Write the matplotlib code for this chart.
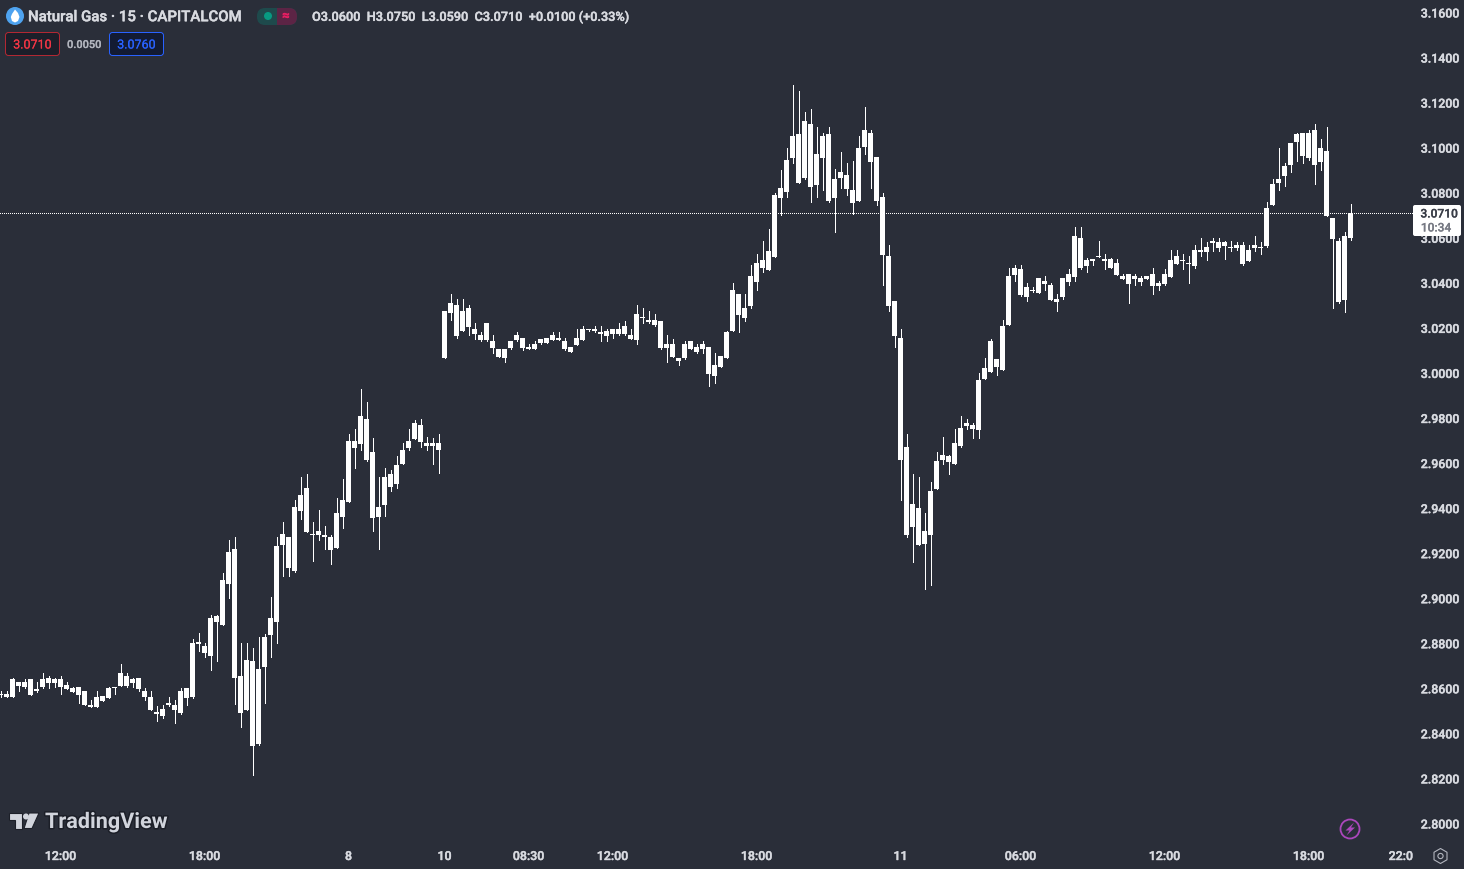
import matplotlib
matplotlib.use("Agg")
import matplotlib.pyplot as plt
from matplotlib.patches import Circle, FancyBboxPatch, Polygon, RegularPolygon, Rectangle
import matplotlib.patheffects as pe

wick_high = [
2.859,2.859,2.8645,2.863,2.864,2.864,2.863,2.867,2.8655,2.8645,
2.8655,2.863,2.8605,2.8605,2.859,2.855,2.859,2.8565,2.8605,2.8605,
2.871,2.867,2.8645,2.8645,2.860,2.859,2.852,2.8525,2.856,2.855,
2.860,2.860,2.882,2.8845,2.880,2.8925,2.8925,2.911,2.926,2.927,
2.880,2.880,2.878,2.883,2.884,2.9005,2.927,2.934,2.927,2.9435,
2.954,2.955,2.934,2.939,2.932,2.928,2.9445,2.953,2.973,2.975,
2.993,2.987,2.971,2.954,2.958,2.957,2.963,2.969,2.975,2.979,
2.9795,2.9715,2.971,2.973,3.0275,3.035,3.033,3.033,3.030,3.022,
3.018,3.022,3.017,3.0105,3.0105,3.014,3.018,3.0155,3.013,3.014,
3.015,3.0155,3.018,3.018,3.0155,3.0115,3.0195,3.021,3.0195,3.021,
3.021,3.0195,3.0195,3.022,3.023,3.0195,3.030,3.029,3.0275,3.026,
3.023,3.017,3.015,3.0065,3.014,3.014,3.013,3.014,3.0115,3.009,
3.0075,3.0185,3.040,3.035,3.035,3.048,3.053,3.0585,3.064,3.080,
3.090,3.100,3.128,3.125,3.116,3.117,3.109,3.1065,3.109,3.0905,
3.098,3.093,3.094,3.105,3.118,3.108,3.096,3.080,3.057,3.032,
3.0195,2.973,2.955,2.954,2.938,2.9515,2.965,2.9715,2.9635,2.975,
2.981,2.9795,2.978,3.000,3.0065,3.015,3.006,3.0235,3.0465,3.048,
3.048,3.040,3.038,3.042,3.043,3.040,3.035,3.042,3.046,3.065,
3.065,3.051,3.0505,3.0585,3.053,3.051,3.0505,3.044,3.044,3.044,
3.043,3.043,3.0465,3.041,3.046,3.0545,3.0545,3.053,3.052,3.057,
3.060,3.058,3.060,3.060,3.0585,3.0585,3.058,3.058,3.057,3.061,
3.058,3.076,3.086,3.100,3.093,3.102,3.1065,3.1065,3.108,3.1105,
3.104,3.109,3.069,3.060,3.0625,3.075]
body_top = [
2.8575,2.8575,2.864,2.863,2.863,2.864,2.8595,2.864,2.8645,2.864,
2.864,2.8615,2.860,2.8605,2.859,2.8525,2.856,2.8565,2.860,2.8605,
2.867,2.8655,2.864,2.8645,2.859,2.856,2.8495,2.851,2.8535,2.8525,
2.859,2.860,2.880,2.8805,2.879,2.891,2.892,2.908,2.9205,2.922,
2.8655,2.8725,2.872,2.8685,2.883,2.891,2.923,2.9285,2.927,2.9405,
2.946,2.949,2.9285,2.930,2.928,2.927,2.938,2.9435,2.970,2.970,
2.981,2.9795,2.965,2.9405,2.954,2.955,2.959,2.966,2.970,2.978,
2.977,2.969,2.969,2.969,3.0275,3.031,3.030,3.0275,3.029,3.0195,
3.017,3.022,3.014,3.0105,3.0105,3.014,3.017,3.0155,3.0115,3.013,
3.015,3.0155,3.017,3.0155,3.014,3.0115,3.0155,3.0195,3.0195,3.0195,
3.018,3.0185,3.0195,3.0195,3.021,3.017,3.026,3.025,3.0235,3.0235,
3.023,3.013,3.013,3.0065,3.013,3.014,3.0115,3.013,3.0115,3.0035,
3.0075,3.018,3.037,3.035,3.029,3.043,3.049,3.050,3.054,3.079,
3.082,3.0945,3.105,3.106,3.112,3.1105,3.097,3.105,3.106,3.086,
3.089,3.088,3.081,3.100,3.108,3.1065,3.096,3.078,3.052,3.032,
3.0155,2.967,2.942,2.940,2.930,2.9475,2.961,2.9635,2.963,2.969,
2.9755,2.978,2.977,2.997,3.002,3.014,3.006,3.021,3.043,3.0465,
3.046,3.038,3.037,3.042,3.041,3.039,3.033,3.042,3.044,3.061,
3.060,3.050,3.0505,3.052,3.0505,3.0505,3.049,3.043,3.044,3.043,
3.042,3.043,3.044,3.040,3.044,3.050,3.052,3.050,3.049,3.0545,
3.0545,3.056,3.0585,3.058,3.058,3.056,3.057,3.057,3.0545,3.057,
3.056,3.073,3.084,3.086,3.092,3.102,3.106,3.1065,3.1065,3.108,
3.100,3.0985,3.069,3.0585,3.061,3.071]
body_bottom = [
2.857,2.856,2.856,2.861,2.8605,2.857,2.859,2.8605,2.8625,2.8625,
2.8605,2.8595,2.8585,2.857,2.8525,2.8515,2.8515,2.8545,2.8555,2.860,
2.861,2.861,2.8625,2.8595,2.856,2.8505,2.8485,2.8475,2.8525,2.8505,
2.849,2.8555,2.856,2.8795,2.8755,2.8745,2.8895,2.888,2.9065,2.8645,
2.849,2.8505,2.8345,2.8355,2.8695,2.8835,2.8895,2.9235,2.9135,2.912,
2.9385,2.9295,2.928,2.928,2.927,2.9215,2.9225,2.936,2.9425,2.9665,
2.9685,2.9615,2.9355,2.936,2.9415,2.9495,2.9505,2.9595,2.9665,2.9705,
2.9695,2.9675,2.9675,2.966,3.0065,3.0265,3.0165,3.0185,3.0205,3.0175,
3.0145,3.0145,3.011,3.007,3.0065,3.011,3.0145,3.011,3.0105,3.0105,
3.0135,3.0135,3.0145,3.0145,3.0105,3.0095,3.0125,3.0145,3.019,3.0185,
3.0175,3.0165,3.0175,3.0175,3.0175,3.015,3.0145,3.0245,3.0225,3.0215,
3.011,3.011,3.007,3.0055,3.0065,3.0105,3.0095,3.0105,2.9995,2.9985,
3.0025,3.0065,3.0185,3.0255,3.0245,3.0295,3.0405,3.0465,3.0455,3.0515,
3.0775,3.0805,3.0955,3.0845,3.0865,3.0825,3.0835,3.0955,3.0765,3.0775,
3.0865,3.0815,3.0755,3.0765,3.1005,3.0935,3.0765,3.0525,3.0295,3.0165,
2.9615,2.928,2.9315,2.9235,2.924,2.928,2.9485,2.9615,2.9605,2.9595,
2.9675,2.9765,2.975,2.9745,2.9975,3.0005,3.0025,3.0015,3.0215,3.0435,
3.0345,3.0335,3.0365,3.0355,3.0395,3.0325,3.0315,3.0335,3.0405,3.0425,
3.0465,3.0475,3.0495,3.0515,3.0495,3.0465,3.0435,3.0415,3.0395,3.0415,
3.0405,3.0415,3.0385,3.0385,3.0395,3.0425,3.0485,3.0495,3.0485,3.0475,
3.0535,3.0535,3.0575,3.0555,3.0565,3.0555,3.0555,3.0485,3.0495,3.0555,
3.0555,3.0565,3.0745,3.0845,3.0875,3.0925,3.1025,3.0965,3.0955,3.0925,
3.0935,3.0695,3.0595,3.0315,3.0325,3.060]
wick_low = [
2.856,2.856,2.856,2.859,2.860,2.857,2.8585,2.860,2.860,2.8605,
2.8575,2.8595,2.8585,2.8535,2.8525,2.8515,2.8515,2.8545,2.8555,2.8575,
2.861,2.8605,2.8605,2.859,2.855,2.8505,2.8455,2.847,2.852,2.8445,
2.8485,2.8525,2.8555,2.8765,2.874,2.868,2.872,2.888,2.900,2.853,
2.843,2.8505,2.8215,2.835,2.8535,2.874,2.880,2.910,2.910,2.9115,
2.935,2.9295,2.9165,2.926,2.922,2.915,2.9225,2.931,2.9425,2.958,
2.966,2.961,2.930,2.922,2.9365,2.9475,2.949,2.9595,2.966,2.9705,
2.967,2.966,2.9595,2.9555,3.0065,3.0235,3.0155,3.0185,3.017,3.015,
3.014,3.014,3.009,3.007,3.005,3.0105,3.014,3.010,3.0105,3.0105,
3.013,3.0135,3.0145,3.0145,3.010,3.0095,3.0125,3.0145,3.0185,3.018,
3.014,3.014,3.0155,3.017,3.017,3.015,3.013,3.022,3.022,3.021,
3.0105,3.005,3.007,3.0035,3.006,3.0105,3.009,3.009,2.994,2.9955,
3.0025,3.0065,3.0185,3.018,3.023,3.029,3.037,3.045,3.0455,3.0515,
3.070,3.078,3.093,3.0845,3.086,3.076,3.078,3.081,3.076,3.0625,
3.082,3.079,3.0705,3.0765,3.097,3.082,3.0745,3.039,3.0275,3.0115,
2.9435,2.927,2.916,2.9235,2.904,2.906,2.9485,2.9595,2.955,2.9595,
2.967,2.975,2.971,2.971,2.9975,3.0005,2.999,3.0015,3.0215,3.041,
3.034,3.032,3.036,3.0355,3.037,3.0325,3.0275,3.033,3.039,3.041,
3.046,3.045,3.048,3.0515,3.046,3.0465,3.0435,3.0415,3.031,3.039,
3.039,3.0415,3.035,3.037,3.039,3.0425,3.0485,3.046,3.040,3.0465,
3.052,3.050,3.054,3.054,3.0505,3.054,3.0545,3.048,3.0495,3.054,
3.053,3.056,3.0745,3.081,3.083,3.089,3.094,3.093,3.0945,3.084,
3.090,3.0695,3.029,3.031,3.027,3.059]

price_ticks = [3.16,3.14,3.12,3.10,3.08,3.06,3.04,3.02,3.00,2.98,2.96,2.94,2.92,2.90,2.88,2.86,2.84,2.82,2.80]
time_ticks = [10,34,58,74,88,102,126,150,170,194,218,233.4]
time_labels = ["12:00","18:00","8","10","08:30","12:00","18:00","11","06:00","12:00","18:00","22:0"]
last_price = 3.0710

W, H = 1464, 869
BG = "#2a2e39"
TXT = "#d8dae0"
FONT = "Roboto"
assert all(len(s) == 226 for s in (wick_high, body_top, body_bottom, wick_low))

def heavy(color, w=0.3):
    return [pe.withStroke(linewidth=w, foreground=color)]

fig = plt.figure(figsize=(W/100, H/100), dpi=100, facecolor=BG)
plot_w, plot_h = 1413, 840
ax = fig.add_axes([0, (H-plot_h)/H, plot_w/W, plot_h/H], facecolor=BG)
per_px = 0.36/811
ax.set_xlim(-0.5/6, (plot_w-0.5)/6)
ax.set_ylim(3.16 - (plot_h-12.5)*per_px, 3.16 + 12.5*per_px)
for s in ax.spines.values():
    s.set_visible(False)

idx = list(range(len(body_top)))
ax.vlines(idx, wick_low, wick_high, color="white", lw=0.72, antialiased=False, zorder=3)
ax.bar(idx, [t-b for t, b in zip(body_top, body_bottom)], bottom=body_bottom, width=5/6,
       color="white", linewidth=0, zorder=3)
ax.axhline(last_price, color="white", lw=0.72, dashes=(1, 2), antialiased=False, zorder=2)

ax.yaxis.tick_right()
ax.set_yticks(price_ticks)
ax.set_yticklabels([f"{p:.4f}" for p in price_ticks], fontfamily=FONT, fontsize=8.9,
                   fontweight="medium", color=TXT, path_effects=heavy(TXT))
ax.tick_params(axis="y", length=0, pad=5.6)
ax.set_xticks(time_ticks)
ax.set_xticklabels(time_labels, fontfamily=FONT, fontsize=8.9, fontweight="medium", color=TXT,
                   path_effects=heavy(TXT))
ax.tick_params(axis="x", length=0, pad=7.2)

# overlay in pixel space for the platform furniture
ov = fig.add_axes([0, 0, 1, 1], facecolor="none", zorder=5)
ov.set_xlim(0, W); ov.set_ylim(H, 0); ov.axis("off")

def T(x, y, s, color=TXT, size=12, ha="left", weight="medium", w=0.3, **k):
    k.setdefault("path_effects", heavy(color, w))
    return ov.text(x, y, s, color=color, fontsize=size*0.72, ha=ha, va="center",
                   fontfamily=FONT, fontweight=weight, **k)

def box(x0, y0, x1, y1, fc, ec=None, r=3, lw=1):
    ov.add_patch(FancyBboxPatch((x0+r, y0+r), x1-x0-2*r, y1-y0-2*r,
                 boxstyle=f"round,pad={r},rounding_size={r}", fc=fc, ec=ec or "none", lw=lw*0.72))

# price label
box(1413, 205, 1461, 236, "white", r=2)
T(1439, 214, "3.0710", color="#3a3e48", size=12, ha="center", w=0.15)
T(1436, 228, "10:34", color="#777a84", size=12, ha="center", w=0.1)

# header
ov.add_patch(Circle((15, 16), 9, fc="#4ea3f0", ec="none"))
ov.add_patch(Polygon([(15, 9.5), (18, 13), (19.5, 17), (18, 21), (15, 22.5), (12, 21), (10.8, 17), (12, 14)],
                     fc="white", ec="none"))
T(28, 17.2, "Natural Gas · 15 · CAPITALCOM", size=15.0)
box(257, 8, 297, 25, "#1e4a4c", r=8)
box(277, 8, 297, 25, "#5c2445", r=8)
ov.add_patch(Rectangle((277, 8), 8, 17, fc="#5c2445", ec="none"))
ov.add_patch(Circle((268, 16), 4, fc="#089981", ec="none"))
T(286, 16, "≈", color="#e91e63", size=13, ha="center", weight="bold")
T(312, 17.2, "O3.0600  H3.0750  L3.0590  C3.0710  +0.0100 (+0.33%)", size=12.7)
box(5.5, 32.5, 59.5, 55.5, "#1c1f2a", ec="#b22833", lw=1)
T(32.5, 45, "3.0710", color="#f23645", size=12.5, ha="center", weight="normal", w=0.1)
T(84.5, 45, "0.0050", color="#b2b5be", size=11, ha="center", w=0.15)
box(109.5, 32.5, 163.5, 55.5, "#131b33", ec="#2962ff", lw=1)
T(136.5, 45, "3.0760", color="#2962ff", size=12.5, ha="center", weight="normal", w=0.1)

# TradingView mark
mark = "#d1d4dc"
edge = "#1c1f28"
for pts in ([(8.5, 813), (22, 813), (22, 828.5), (15, 828.5), (15, 820), (8.5, 820)],
            [(29, 813), (39, 813), (32, 828.5), (24, 828.5)]):
    ov.add_patch(Polygon(pts, fc=mark, ec=edge, lw=0.8))
ov.add_patch(Circle((26, 816.5), 3, fc=mark, ec="none"))
ov.text(45, 822, "TradingView", color=mark, fontsize=21.6*0.72, ha="left", va="center",
        fontfamily=FONT, fontweight="bold",
        path_effects=[pe.withStroke(linewidth=2.2, foreground=edge)])

# replay bolt + settings
ov.add_patch(Circle((1350, 829), 9.5, fc="#2a2e39", ec="#ab47bc", lw=1.3))
ov.add_patch(Polygon([(1354, 822.5), (1345.5, 830.5), (1349.5, 830.5), (1346.5, 835.5), (1355, 827.5), (1351, 827.5)],
                     fc="#ab47bc", ec="none"))
ov.add_patch(RegularPolygon((1440.5, 856), 6, radius=7.5, fc="none", ec="#b2b5be", lw=0.8))
ov.add_patch(Circle((1440.5, 856), 2.6, fc="none", ec="#b2b5be", lw=0.8))

fig.savefig("out.png", dpi=100, facecolor=BG)
